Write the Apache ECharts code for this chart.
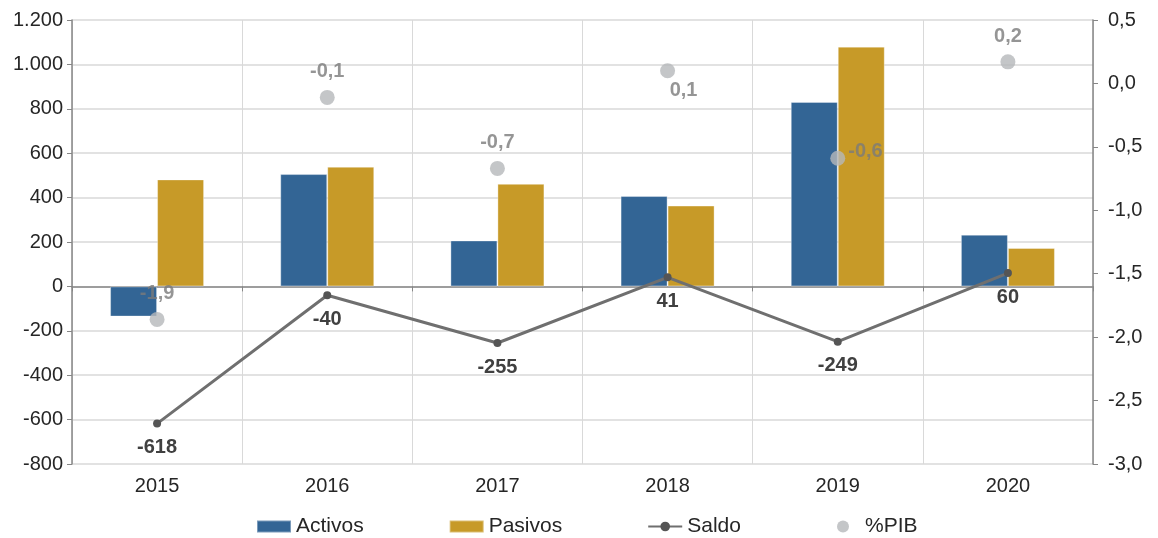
<!DOCTYPE html>
<html>
<head>
<meta charset="utf-8">
<script src="https://cdn.jsdelivr.net/npm/echarts@6/dist/echarts.min.js"></script>
<style>
  html, body { margin: 0; padding: 0; background: #fff; }
  #chart { width: 1158px; height: 538px; }
</style>
</head>
<body>
<div id="chart"></div>
<script>
// ---- Data ----
const years = ['2015', '2016', '2017', '2018', '2019', '2020'];
const activos = [-136, 506, 207, 407, 831, 233];
const pasivos = [482, 539, 462, 364, 1080, 173];
const saldo = [-618, -40, -255, 41, -249, 60];
const pib = [-1.86, -0.11, -0.67, 0.10, -0.59, 0.17];
const leftAxisRange = [-800, 1200, 200];
const rightAxisRange = [-3.0, 0.5, 0.5];

// ---- Styling ----
const FONT = "'Liberation Sans', Arial, sans-serif";
const TXT = '#262626';
const AXIS = '#868686';
const GRID = '#d9d9d9';
const C_ACT = '#336595';
const C_PAS = '#c79a28';
const C_SAL = '#6f6f6f';
const C_PIB = '#b5b8ba';

const fmtThousands = v => {
  const s = Math.abs(v).toString().replace(/\B(?=(\d{3})+(?!\d))/g, '.');
  return (v < 0 ? '-' : '') + s;
};
const fmtDec = v => v.toFixed(1).replace('.', ',');

// label placement for %PIB points (style only)
const pibLabelPlacement = [
  { position: 'top', distance: 8 },
  { position: 'top', distance: 8 },
  { position: 'top', distance: 8 },
  { position: 'bottom', distance: 5, offset: [16, -3] },
  { position: 'right', distance: 3, offset: [0, -7] },
  { position: 'top', distance: 8 }
];

const chart = echarts.init(document.getElementById('chart'), null, { renderer: 'canvas' });

const legendCommon = {
  top: 516,
  itemWidth: 34,
  itemHeight: 12,
  itemGap: 85,
  padding: 0,
  textStyle: { fontFamily: FONT, fontSize: 21, color: TXT }
};

const option = {
  backgroundColor: '#ffffff',
  animation: false,
  textStyle: { fontFamily: FONT },
  grid: { left: 72, right: 65, top: 20, bottom: 74 },
  legend: [
    Object.assign({}, legendCommon, {
      left: 256,
      data: [
        { name: 'Activos', icon: 'rect' },
        { name: 'Pasivos', icon: 'rect' },
        { name: 'Saldo' }
      ]
    }),
    Object.assign({}, legendCommon, {
      left: 837,
      data: [{ name: '%PIB', icon: 'circle' }]
    })
  ],
  xAxis: [
    {
      type: 'category',
      data: years,
      position: 'bottom',
      axisLine: { show: false, onZero: false },
      axisTick: { show: false },
      axisLabel: { fontFamily: FONT, fontSize: 20, color: TXT, margin: 12 },
      splitLine: { show: true, lineStyle: { color: GRID, width: 1 } }
    },
    {
      type: 'category',
      data: years,
      position: 'bottom',
      axisLine: { show: true, onZero: true, onZeroAxisIndex: 0, lineStyle: { color: AXIS, width: 1.5 } },
      axisTick: { show: true, length: 5, lineStyle: { color: AXIS } },
      axisLabel: { show: false },
      splitLine: { show: false }
    }
  ],
  yAxis: [
    {
      type: 'value',
      min: leftAxisRange[0],
      max: leftAxisRange[1],
      interval: leftAxisRange[2],
      axisLine: { show: true, lineStyle: { color: AXIS, width: 1.5 } },
      axisTick: { show: true, length: 5, lineStyle: { color: AXIS } },
      axisLabel: { fontFamily: FONT, fontSize: 20, color: TXT, margin: 9, formatter: fmtThousands },
      splitLine: { show: true, lineStyle: { color: GRID, width: 1.5 } }
    },
    {
      type: 'value',
      min: rightAxisRange[0],
      max: rightAxisRange[1],
      interval: rightAxisRange[2],
      position: 'right',
      axisLine: { show: true, lineStyle: { color: AXIS, width: 1.5 } },
      axisTick: { show: true, length: 5, lineStyle: { color: AXIS } },
      axisLabel: { fontFamily: FONT, fontSize: 20, color: TXT, margin: 15, formatter: fmtDec },
      splitLine: { show: false }
    }
  ],
  series: [
    {
      name: 'Activos',
      type: 'bar',
      data: activos,
      barWidth: 47,
      barGap: '0%',
      itemStyle: { color: C_ACT, borderColor: 'rgba(255,255,255,0.35)', borderWidth: 1 },
      z: 2
    },
    {
      name: 'Pasivos',
      type: 'bar',
      data: pasivos,
      barWidth: 47,
      barGap: '0%',
      itemStyle: { color: C_PAS, borderColor: 'rgba(255,255,255,0.35)', borderWidth: 1 },
      z: 2
    },
    {
      name: 'Saldo',
      type: 'line',
      data: saldo,
      symbol: 'circle',
      symbolSize: 8,
      lineStyle: { color: C_SAL, width: 3 },
      itemStyle: { color: '#555555' },
      label: {
        show: true,
        position: 'bottom',
        distance: 10,
        fontFamily: FONT,
        fontSize: 20,
        fontWeight: 'bold',
        color: '#404040',
        formatter: p => String(p.value)
      },
      z: 4
    },
    {
      name: '%PIB',
      type: 'scatter',
      yAxisIndex: 1,
      symbol: 'circle',
      symbolSize: 15,
      itemStyle: { color: C_PIB },
      data: pib.map((v, i) => ({
        value: v,
        label: Object.assign({}, pibLabelPlacement[i])
      })),
      label: {
        show: true,
        fontFamily: FONT,
        fontSize: 20,
        fontWeight: 'bold',
        color: '#7a7a7a',
        formatter: p => fmtDec(p.value)
      },
      z: 5
    }
  ]
};

chart.setOption(option);
</script>
</body>
</html>
